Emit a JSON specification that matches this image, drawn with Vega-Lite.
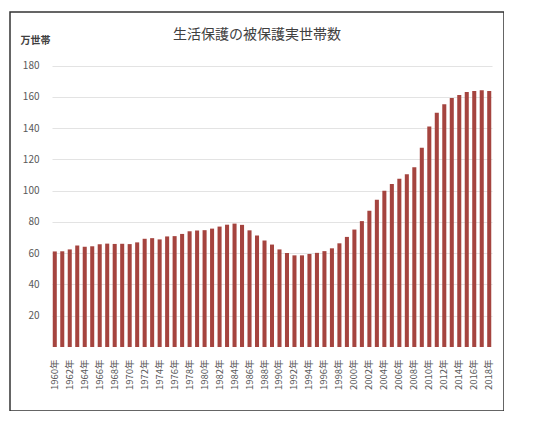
{
  "$schema": "https://vega.github.io/schema/vega-lite/v6.json",
  "autosize": "none",
  "padding": {"left": 10, "top": 12, "right": 0, "bottom": 0},
  "width": 494,
  "height": 399,
  "title": {
    "text": "生活保護の被保護実世帯数",
    "anchor": "middle",
    "frame": "group",
    "baseline": "top",
    "offset": -30,
    "fontSize": 14,
    "fontWeight": "normal",
    "color": "#404040"
  },
  "data": {
    "values": [
      {"year": 1960, "households": 61.1},
      {"year": 1961, "households": 61.2},
      {"year": 1962, "households": 62.4},
      {"year": 1963, "households": 64.9},
      {"year": 1964, "households": 64.1},
      {"year": 1965, "households": 64.4},
      {"year": 1966, "households": 65.7},
      {"year": 1967, "households": 66.1},
      {"year": 1968, "households": 65.9},
      {"year": 1969, "households": 66.0},
      {"year": 1970, "households": 65.8},
      {"year": 1971, "households": 66.9},
      {"year": 1972, "households": 69.2},
      {"year": 1973, "households": 69.6},
      {"year": 1974, "households": 68.8},
      {"year": 1975, "households": 70.7},
      {"year": 1976, "households": 70.9},
      {"year": 1977, "households": 72.3},
      {"year": 1978, "households": 74.0},
      {"year": 1979, "households": 74.5},
      {"year": 1980, "households": 74.7},
      {"year": 1981, "households": 75.7},
      {"year": 1982, "households": 77.0},
      {"year": 1983, "households": 78.2},
      {"year": 1984, "households": 78.9},
      {"year": 1985, "households": 78.1},
      {"year": 1986, "households": 74.6},
      {"year": 1987, "households": 71.3},
      {"year": 1988, "households": 68.1},
      {"year": 1989, "households": 65.5},
      {"year": 1990, "households": 62.4},
      {"year": 1991, "households": 60.1},
      {"year": 1992, "households": 58.6},
      {"year": 1993, "households": 58.6},
      {"year": 1994, "households": 59.5},
      {"year": 1995, "households": 60.2},
      {"year": 1996, "households": 61.3},
      {"year": 1997, "households": 63.1},
      {"year": 1998, "households": 66.3},
      {"year": 1999, "households": 70.4},
      {"year": 2000, "households": 75.1},
      {"year": 2001, "households": 80.5},
      {"year": 2002, "households": 87.1},
      {"year": 2003, "households": 94.1},
      {"year": 2004, "households": 99.9},
      {"year": 2005, "households": 104.2},
      {"year": 2006, "households": 107.6},
      {"year": 2007, "households": 110.5},
      {"year": 2008, "households": 114.9},
      {"year": 2009, "households": 127.4},
      {"year": 2010, "households": 141.0},
      {"year": 2011, "households": 149.8},
      {"year": 2012, "households": 155.2},
      {"year": 2013, "households": 159.2},
      {"year": 2014, "households": 161.2},
      {"year": 2015, "households": 163.0},
      {"year": 2016, "households": 163.7},
      {"year": 2017, "households": 164.1},
      {"year": 2018, "households": 163.7}
    ]
  },
  "mark": {"type": "bar", "color": "#a5443f"},
  "encoding": {
    "x": {
      "field": "year",
      "type": "ordinal",
      "scale": {"range": [42, 482], "paddingInner": 0.46, "paddingOuter": 0.1},
      "axis": {
        "title": null,
        "values": [1960, 1962, 1964, 1966, 1968, 1970, 1972, 1974, 1976, 1978, 1980, 1982, 1984, 1986, 1988, 1990, 1992, 1994, 1996, 1998, 2000, 2002, 2004, 2006, 2008, 2010, 2012, 2014, 2016, 2018],
        "labelExpr": "datum.label + '年'",
        "labelAngle": -90,
        "labelAlign": "right",
        "labelBaseline": "middle",
        "labelPadding": 4,
        "labelFontSize": 9.5,
        "labelColor": "#595959",
        "ticks": false,
        "domain": false,
        "offset": -56
      }
    },
    "y": {
      "field": "households",
      "type": "quantitative",
      "scale": {"domain": [0, 180], "range": [335, 53.5], "nice": false},
      "axis": {
        "title": "万世帯",
        "titleAngle": 0,
        "titleAlign": "left",
        "titleBaseline": "middle",
        "titleX": -23,
        "titleY": 28.5,
        "titleFontSize": 10,
        "titleFontWeight": "bold",
        "titleColor": "#404040",
        "values": [20, 40, 60, 80, 100, 120, 140, 160, 180],
        "labelFontSize": 10,
        "labelColor": "#595959",
        "labelPadding": 4,
        "ticks": false,
        "domain": false,
        "grid": true,
        "gridColor": "#e3e3e3",
        "offset": -33
      }
    }
  },
  "config": {
    "font": "Noto Sans CJK JP",
    "background": "white",
    "view": {"stroke": "#333333", "strokeWidth": 1.5}
  }
}
